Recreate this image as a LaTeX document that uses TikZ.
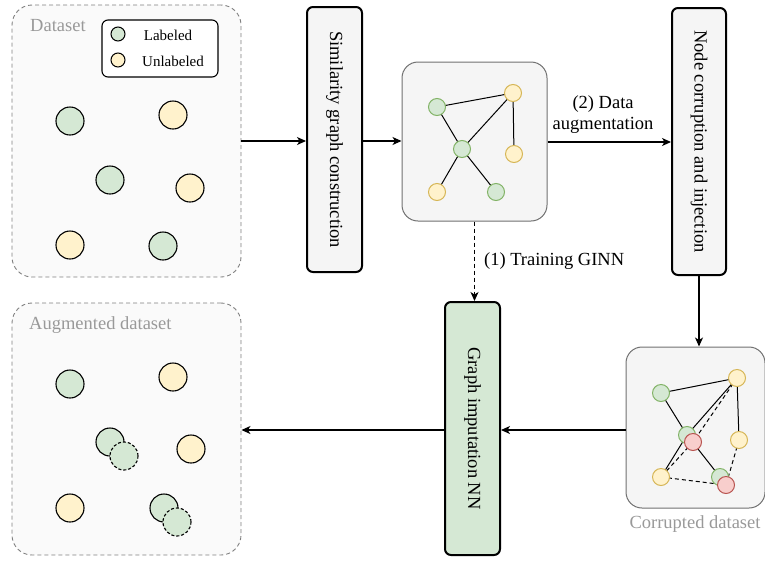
\documentclass[tikz,border=0pt]{standalone}
\usepackage{fontspec}
\setmainfont{Liberation Serif}
\usetikzlibrary{arrows.meta}
\definecolor{gfill}{HTML}{D5E8D4}
\definecolor{gline}{HTML}{82B366}
\definecolor{yfill}{HTML}{FFF2CC}
\definecolor{yline}{HTML}{D6B656}
\definecolor{rfill}{HTML}{F8CECC}
\definecolor{rline}{HTML}{B85450}
\definecolor{boxfill}{HTML}{F5F5F5}
\definecolor{dsfill}{HTML}{FAFAFA}
\definecolor{dsline}{HTML}{808080}
\definecolor{lblgray}{HTML}{999999}
\definecolor{gbline}{HTML}{707070}
\tikzset{
  dsbox/.style={draw=dsline, dash pattern=on 4pt off 3pt, line width=0.9pt, fill=dsfill, rounded corners=20pt, inner sep=0pt},
  procbox/.style={draw=black, line width=2pt, fill=boxfill, rounded corners=6pt, inner sep=0pt},
  graphbox/.style={draw=gbline, line width=1pt, fill=boxfill, rounded corners=16pt, inner sep=0pt},
  vtext/.style={rotate=-90, font=\fontsize{18.5}{22}\selectfont},
  ptgreen/.style={circle, draw=black, line width=1.1pt, fill=gfill, minimum size=28pt, inner sep=0pt},
  ptyellow/.style={circle, draw=black, line width=1.1pt, fill=yfill, minimum size=28pt, inner sep=0pt},
  ptdash/.style={circle, draw=black, line width=1.1pt, dash pattern=on 3pt off 2pt, fill=gfill, minimum size=28pt, inner sep=0pt},
  lgreen/.style={circle, draw=black, line width=1pt, fill=gfill, minimum size=14pt, inner sep=0pt},
  lyellow/.style={circle, draw=black, line width=1pt, fill=yfill, minimum size=14pt, inner sep=0pt},
  gn/.style={circle, draw=gline, line width=1pt, fill=gfill, minimum size=17pt, inner sep=0pt},
  yn/.style={circle, draw=yline, line width=1pt, fill=yfill, minimum size=17pt, inner sep=0pt},
  rn/.style={circle, draw=rline, line width=1pt, fill=rfill, minimum size=17pt, inner sep=0pt},
  edge/.style={draw=black, line width=1pt},
  dedge/.style={draw=black, line width=1pt, dash pattern=on 4pt off 3pt},
  conn/.style={draw=black, line width=1.2pt, -{Stealth[length=9pt, width=8pt, inset=2.5pt]}},
  lbl/.style={text=lblgray, font=\fontsize{18.5}{22}\selectfont, inner sep=0pt},
  txt/.style={font=\fontsize{18.5}{21}\selectfont, inner sep=0pt, align=center},
  ltxt/.style={font=\fontsize{15}{18}\selectfont, inner sep=0pt},
}
\begin{document}
\begin{tikzpicture}[x=1pt, y=-1pt]
\useasboundingbox (0,0) rectangle (765,563);

% Dataset box
\node[dsbox, minimum width=229pt, minimum height=272pt] (ds) at (126.5,141) {};
\node[lbl, anchor=west] (dslbl) at (30,26) {Dataset};
\node[draw=black, line width=1.1pt, rounded corners=6pt, fill=white, minimum width=116pt, minimum height=57pt, inner sep=0pt] (legend) at (160,48.5) {};
\node[lgreen] (lg) at (118,34) {};
\node[lyellow] (ly) at (118,60) {};
\node[ltxt] (lgt) at (168,35) {Labeled};
\node[ltxt] (lyt) at (173,61) {Unlabeled};
\node[ptgreen] (d1) at (70,121) {};
\node[ptyellow] (d2) at (173,115) {};
\node[ptgreen] (d3) at (110,180) {};
\node[ptyellow] (d4) at (190,188) {};
\node[ptyellow] (d5) at (70,245) {};
\node[ptgreen] (d6) at (163,246) {};

% Similarity graph construction
\node[procbox, minimum width=55pt, minimum height=265pt] (sim) at (334.5,139.5) {};
\node[vtext] (simt) at (sim.center) {Similarity graph construction};

% Graph box
\node[graphbox, minimum width=145pt, minimum height=159pt] (gb) at (474.5,141.5) {};
\coordinate (p1) at (437,107);
\coordinate (p2) at (513,93);
\coordinate (p3) at (462,149);
\coordinate (p4) at (514,154);
\coordinate (p5) at (437,192);
\coordinate (p6) at (496,192);
\draw[edge] (p1) -- (p2);
\draw[edge] (p1) -- (p3);
\draw[edge] (p3) -- (p2);
\draw[edge] (p2) -- (p4);
\draw[edge] (p3) -- (p5);
\draw[edge] (p3) -- (p6);
\node[gn] (g1) at (p1) {};
\node[yn] (g2) at (p2) {};
\node[gn] (g3) at (p3) {};
\node[yn] (g4) at (p4) {};
\node[yn] (g5) at (p5) {};
\node[gn] (g6) at (p6) {};

% Node corruption and injection
\node[procbox, minimum width=54pt, minimum height=267pt] (nc) at (699,141.5) {};
\node[vtext] (nct) at (nc.center) {Node corruption and injection};

% Corrupted dataset
\node[graphbox, minimum width=139pt, minimum height=161pt] (cb) at (695.5,427.5) {};
\node[lbl] (cblbl) at (695,524) {Corrupted dataset};
\coordinate (c1) at (661,393);
\coordinate (c2) at (737,378);
\coordinate (c3) at (687,435);
\coordinate (c4) at (693,442);
\coordinate (c5) at (739,440);
\coordinate (c6) at (661,477);
\coordinate (c7) at (720,477);
\coordinate (c8) at (726,485);
\draw[edge] (c1) -- (c2);
\draw[edge] (c1) -- (c3);
\draw[edge] (c3) -- (c2);
\draw[edge] (c2) -- (c5);
\draw[edge] (c3) -- (c6);
\draw[edge] (c3) -- (c7);
\draw[dedge] (c2) -- (c4);
\draw[dedge] (c4) -- (c6);
\draw[dedge] (c6) -- (c8);
\draw[dedge] (c5) -- (c8);
\node[gn] (cn1) at (c1) {};
\node[yn] (cn2) at (c2) {};
\node[gn] (cn3) at (c3) {};
\node[rn] (cn4) at (c4) {};
\node[yn] (cn5) at (c5) {};
\node[yn] (cn6) at (c6) {};
\node[gn] (cn7) at (c7) {};
\node[rn] (cn8) at (c8) {};

% GINN
\node[procbox, fill=gfill, minimum width=55pt, minimum height=253pt] (ginn) at (472.5,428.5) {};
\node[vtext] (ginnt) at (ginn.center) {Graph imputation NN};

% Augmented dataset
\node[dsbox, minimum width=229pt, minimum height=252pt] (aug) at (126.5,429) {};
\node[lbl, anchor=west] (auglbl) at (29,325) {Augmented dataset};
\node[ptgreen] (a1) at (70,384) {};
\node[ptyellow] (a2) at (173,377) {};
\node[ptgreen] (a3) at (110,442) {};
\node[ptdash] (a3b) at (124,456) {};
\node[ptyellow] (a4) at (191,449) {};
\node[ptyellow] (a5) at (70,508) {};
\node[ptgreen] (a6) at (164,508) {};
\node[ptdash] (a6b) at (177,522) {};

% Connectors
\coordinate (y141) at (0,141);
\coordinate (y142) at (0,142);
\coordinate (y430) at (0,430);
\draw[conn] (ds.east |- y141) -- (sim.west |- y141);
\draw[conn] (sim.east |- y141) -- (gb.west |- y141);
\draw[conn] (gb.east |- y142) -- (nc.west |- y142) node[txt, pos=0.45, above=8pt] (l2) {(2) Data\\augmentation};
\draw[conn] (nc.south) -- (nc.south |- cb.north);
\draw[conn, dash pattern=on 4pt off 3pt] (gb.south) -- (gb.south |- ginn.north) node[txt, pos=0.5, right=9pt] (l1) {(1) Training GINN};
\draw[conn] (cb.west |- y430) -- (ginn.east |- y430);
\draw[conn] (ginn.west |- y430) -- (aug.east |- y430);
\end{tikzpicture}
\end{document}
